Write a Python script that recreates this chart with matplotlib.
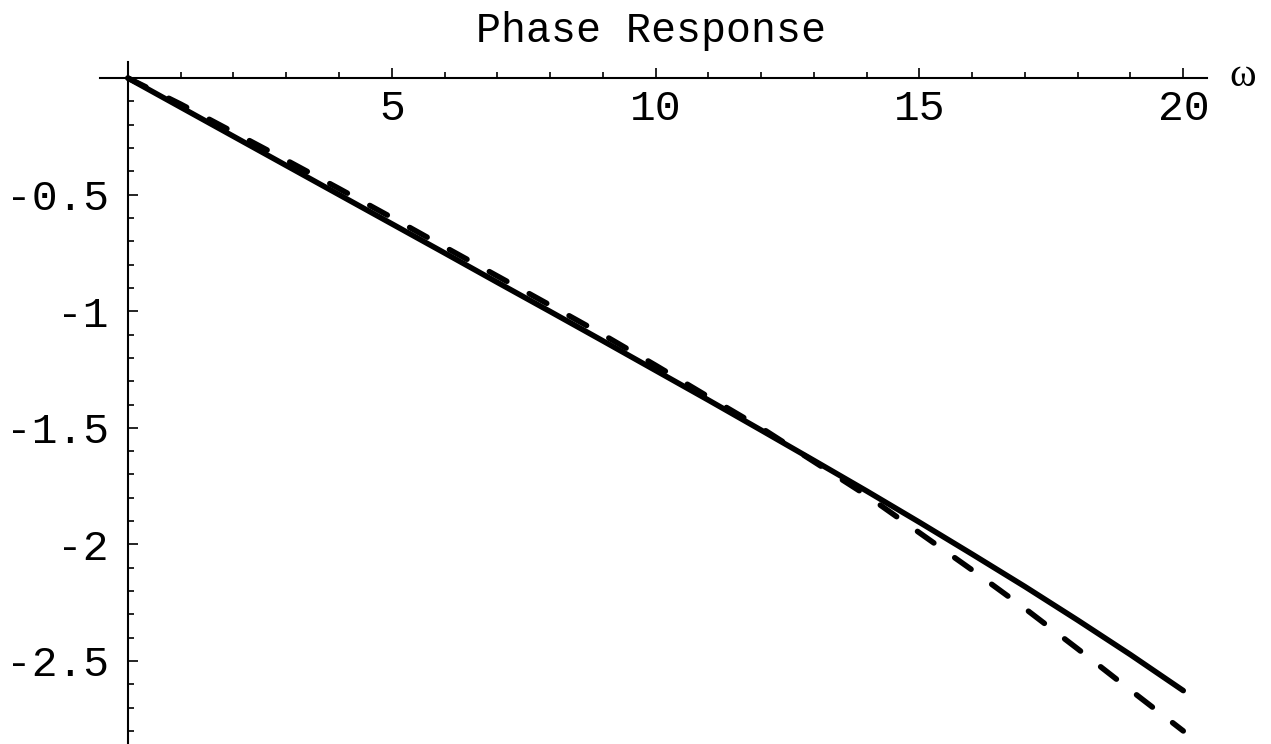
"""Phase response plot: exact vs. approximate phase (Mathematica-style axes)."""

import matplotlib

matplotlib.use("Agg")
import matplotlib.pyplot as plt
from matplotlib.ticker import FixedLocator, FuncFormatter

plt.rcParams["axes.unicode_minus"] = False

# frequency samples (rad/s)
omega = [0, 1, 2, 3, 4, 5, 6, 7, 8, 9, 10,
         11, 12, 13, 14, 15, 16, 17, 18, 19, 20]

# phase (rad)
phase_exact = [0.0, -0.125, -0.250, -0.375, -0.500, -0.625, -0.750, -0.876,
               -1.001, -1.127, -1.254, -1.381, -1.510, -1.640, -1.771, -1.905,
               -2.042, -2.181, -2.325, -2.473, -2.627]
phase_approx = [0.0, -0.112, -0.232, -0.352, -0.474, -0.598, -0.724, -0.849,
                -0.974, -1.100, -1.232, -1.367, -1.500, -1.645, -1.790, -1.950,
                -2.110, -2.275, -2.448, -2.625, -2.800]

x_major = [5, 10, 15, 20]
y_major = [-0.5, -1, -1.5, -2, -2.5]

W, H = 1271, 744
fig = plt.figure(figsize=(W / 100, H / 100), dpi=100)

# axes box in pixels: left 100, right 1207, top 62, bottom 744
ax = fig.add_axes([100 / W, 0, (1207 - 100) / W, (744 - 62) / H])
ax.set_xlim(-0.53, 20.45)
ax.set_ylim(-2.856, 0.069)

ax.plot(omega, phase_exact, color="black", lw=4.0, solid_capstyle="round")
ax.plot(omega, phase_approx, color="black", lw=4.0,
        linestyle=(0, (3.6, 4.6)), dash_capstyle="round")

for side in ("top", "right"):
    ax.spines[side].set_visible(False)
ax.spines["left"].set_position(("data", 0))
ax.spines["bottom"].set_position(("data", 0))
for side in ("left", "bottom"):
    ax.spines[side].set_linewidth(1.5)

mono = "Liberation Mono"
fmt = FuncFormatter(lambda v, _: f"{v:g}")

ax.xaxis.set_major_locator(FixedLocator(x_major))
ax.xaxis.set_minor_locator(FixedLocator([i for i in range(1, 21) if i % 5]))
ax.yaxis.set_major_locator(FixedLocator(y_major))
ax.yaxis.set_minor_locator(
    FixedLocator([-i / 10 for i in range(1, 29) if i % 5]))
ax.xaxis.set_major_formatter(fmt)
ax.yaxis.set_major_formatter(fmt)

ax.tick_params(which="both", direction="in", width=1.2, labelsize=31)
ax.tick_params(which="major", length=7)
ax.tick_params(which="minor", length=4)
ax.tick_params(axis="x", pad=8)
ax.tick_params(axis="y", pad=14)
for lab in ax.get_xticklabels() + ax.get_yticklabels():
    lab.set_fontfamily(mono)

ax.text(21.12, 0.005, "ω", fontsize=29, family="Liberation Serif",
        ha="center", va="center")

fig.text(651 / W, 1 - 31 / H, "Phase Response", fontsize=30, family=mono,
         ha="center", va="center")

fig.savefig("out.png", dpi=100)
